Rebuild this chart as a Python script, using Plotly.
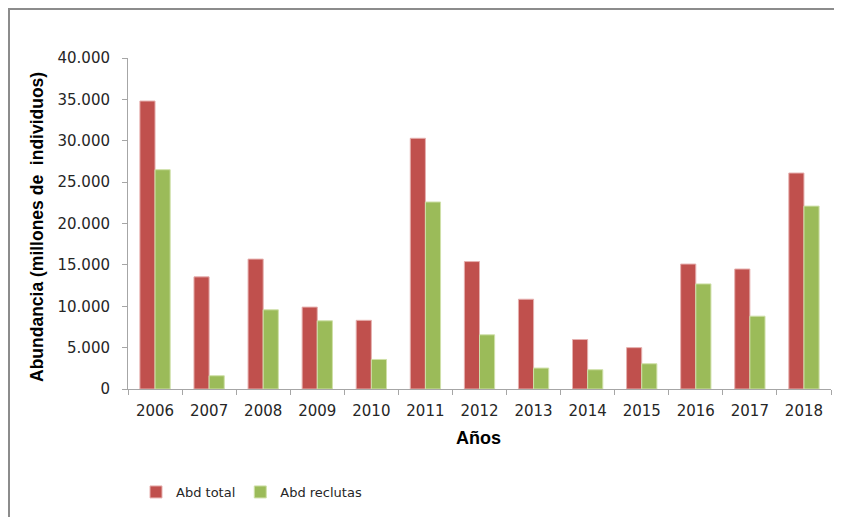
import plotly.graph_objects as go

years = ["2006", "2007", "2008", "2009", "2010", "2011", "2012",
         "2013", "2014", "2015", "2016", "2017", "2018"]
abd_total = [34800, 13550, 15700, 9900, 8300, 30300, 15400,
             10850, 5980, 5000, 15100, 14500, 26100]
abd_reclutas = [26500, 1600, 9570, 8240, 3570, 22600, 6550,
                2530, 2330, 3050, 12700, 8800, 22100]

W, H = 842, 517
L, R, T, B = 120, 19, 50, 136
pw, ph = W - L - R, H - T - B


def px(x):
    return (x - L) / pw


def py(y):
    return (H - B - y) / ph


fig = go.Figure()
fig.add_trace(go.Bar(
    x=years, y=abd_total, name="Abd total",
    marker=dict(color="#C0504D", line=dict(color="#E6B0AF", width=1)),
))
fig.add_trace(go.Bar(
    x=years, y=abd_reclutas, name="Abd reclutas",
    marker=dict(color="#9BBB59", line=dict(color="#CFE0A8", width=1)),
))

fig.update_layout(
    width=W, height=H,
    margin=dict(l=L, r=R, t=T, b=B, autoexpand=False),
    paper_bgcolor="white", plot_bgcolor="white",
    separators=",.",
    barmode="group", bargap=0.44, bargroupgap=0,
    font=dict(family="DejaVu Sans, sans-serif", size=15, color="#262626"),
    showlegend=True,
    legend=dict(orientation="h", x=px(128), y=py(484), xanchor="left", yanchor="middle",
                font=dict(size=13, color="#262626"), itemwidth=30,
                traceorder="normal", bgcolor="rgba(0,0,0,0)"),
    xaxis=dict(
        showline=True, linecolor="#A6A6A6", linewidth=1,
        ticks="outside", ticklen=5, tickcolor="#A6A6A6", tickson="boundaries",
        showgrid=False, tickfont=dict(size=15), ticklabelstandoff=8,
    ),
    yaxis=dict(
        range=[0, 40000], dtick=5000, tickformat=",d",
        showline=True, linecolor="#A6A6A6", linewidth=1,
        ticks="outside", ticklen=5, tickcolor="#A6A6A6",
        showgrid=False, zeroline=False, tickfont=dict(size=15), ticklabelstandoff=9,
    ),
    annotations=[
        dict(text="<b>Abundancia (millones de  individuos)</b>", xref="paper", yref="paper",
             x=px(29), y=py(219), textangle=-90, showarrow=False,
             xanchor="center", yanchor="middle",
             font=dict(family="Liberation Sans, Arial, sans-serif", size=17.5, color="#000000")),
        dict(text="<b>Años</b>", xref="paper", yref="paper",
             x=px(470), y=py(430), showarrow=False,
             xanchor="center", yanchor="middle",
             font=dict(family="Liberation Sans, Arial, sans-serif", size=18, color="#000000")),
    ],
    shapes=[
        dict(type="rect", xref="paper", yref="paper",
             x0=px(1), x1=px(900), y0=py(600), y1=py(1),
             line=dict(color="#8C8C8C", width=2), fillcolor="rgba(0,0,0,0)", layer="below"),
    ],
)

fig.write_html("out.html")
